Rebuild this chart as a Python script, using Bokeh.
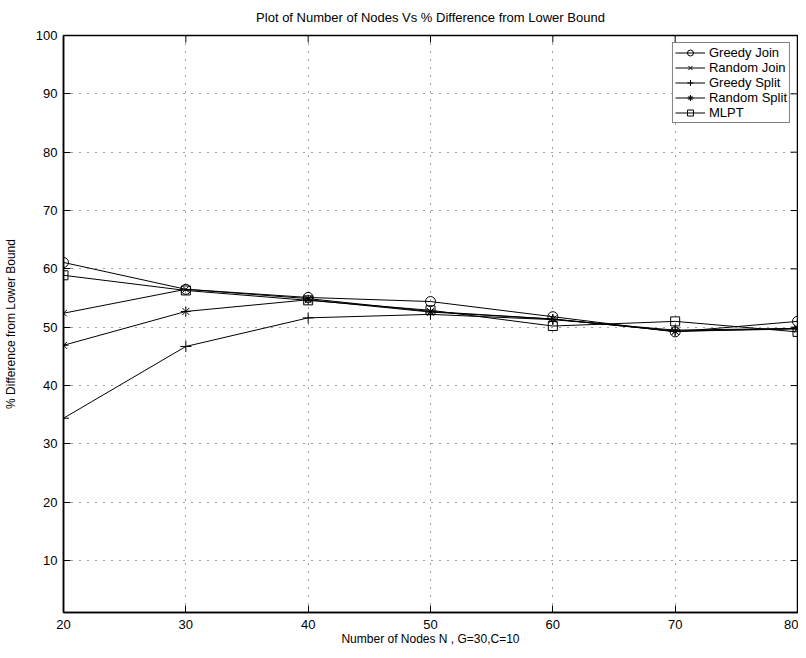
import math
from bokeh.plotting import figure
from bokeh.models import Range1d, FixedTicker, Legend, LegendItem
from bokeh.embed import file_html
from bokeh.resources import INLINE

nodes = [20, 30, 40, 50, 60, 70, 80]
greedy_join = [61.1, 56.5, 55.1, 54.4, 51.8, 49.2, 51.0]
random_join = [52.4, 56.5, 54.9, 52.7, 51.4, 49.3, 49.8]
greedy_split = [34.4, 46.7, 51.6, 52.2, 51.3, 49.5, 49.8]
random_split = [46.9, 52.7, 54.7, 52.6, 51.4, 49.3, 49.7]
mlpt = [58.9, 56.3, 54.6, 52.9, 50.2, 51.0, 49.2]

x_ticks = [20, 30, 40, 50, 60, 70, 80]
y_ticks = [10, 20, 30, 40, 50, 60, 70, 80, 90, 100]

FONT = "Liberation Sans"
X_MIN, X_MAX = 20, 80
Y_MIN, Y_MAX = 1.1, 100

p = figure(frame_width=734, frame_height=577, output_backend="svg", toolbar_location=None,
           x_range=Range1d(X_MIN, X_MAX), y_range=Range1d(Y_MIN, Y_MAX),
           min_border=0, min_border_right=1,
           title="Plot of Number of Nodes Vs % Difference from Lower Bound")
p.title.align = "center"
p.title.text_font = FONT
p.title.text_font_size = "13px"
p.title.text_font_style = "normal"
p.title.text_color = "black"
p.title.vertical_align = "top"
p.title.standoff = 18

p.outline_line_color = "black"
p.outline_line_width = 1.5

for ax in (p.xaxis[0], p.yaxis[0]):
    ax.major_tick_in = 7
    ax.major_tick_out = 0
    ax.minor_tick_in = 0
    ax.minor_tick_out = 0
    ax.axis_line_color = "black"
    ax.axis_line_width = 1.5
    ax.major_tick_line_color = "black"
    ax.major_label_text_font = FONT
    ax.major_label_text_font_size = "13px"
    ax.major_label_text_color = "black"
    ax.axis_label_text_font = FONT
    ax.axis_label_text_font_size = "12px"
    ax.axis_label_text_font_style = "normal"
    ax.axis_label_text_color = "black"

p.xaxis[0].ticker = FixedTicker(ticks=x_ticks)
p.yaxis[0].ticker = FixedTicker(ticks=y_ticks)
p.xaxis[0].axis_label = "Number of Nodes N , G=30,C=10"
p.yaxis[0].axis_label = "% Difference from Lower Bound"
p.xaxis[0].major_label_standoff = 7
p.xaxis[0].axis_label_standoff = 0
p.yaxis[0].major_label_standoff = 6
p.yaxis[0].axis_label_standoff = 15

# inward tick marks on the top and right edges of the box
p.ray(x=x_ticks, y=[Y_MAX] * len(x_ticks), length=7, length_units="screen",
      angle=-math.pi / 2, line_color="black", line_width=1)
p.ray(x=[X_MAX] * len(y_ticks), y=y_ticks, length=7, length_units="screen",
      angle=math.pi, line_color="black", line_width=1)

p.xgrid.ticker = FixedTicker(ticks=x_ticks)
p.ygrid.ticker = FixedTicker(ticks=y_ticks)
for g in (p.xgrid[0], p.ygrid[0]):
    g.grid_line_color = "black"
    g.grid_line_alpha = 0.75
    g.grid_line_dash = "1 7"
    g.grid_line_width = 1

series = [
    ("Greedy Join", greedy_join, "circle", 10),
    ("Random Join", random_join, "x", 9),
    ("Greedy Split", greedy_split, "cross", 11),
    ("Random Split", random_split, "asterisk", 10),
    ("MLPT", mlpt, "square", 9),
]

items = []
for name, vals, mk, sz in series:
    l = p.line(nodes, vals, line_color="black", line_width=1)
    m = p.scatter(nodes, vals, marker=mk, size=sz, line_color="black",
                  fill_color=None, line_width=1)
    items.append(LegendItem(label=name, renderers=[l, m]))

legend = Legend(items=items, location="top_right", margin=7, padding=2, spacing=0,
                label_text_font=FONT, label_text_font_size="13px", label_height=15,
                glyph_width=30, glyph_height=15, label_standoff=4,
                label_text_color="black",
                border_line_color="black", border_line_width=1,
                background_fill_alpha=1)
p.add_layout(legend, "center")

open("out.html", "w").write(file_html(p, INLINE))
